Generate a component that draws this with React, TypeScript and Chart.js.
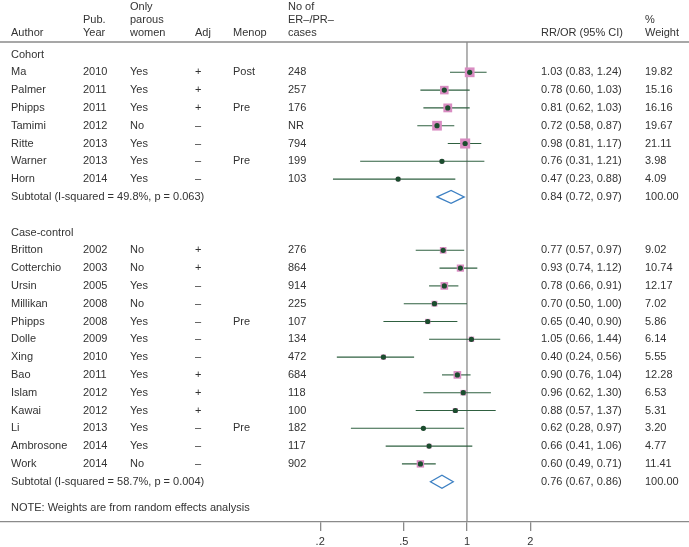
import React, { useEffect, useRef } from 'react';
import { Chart, registerables } from 'chart.js';

Chart.register(...registerables);

// ---- data ----
const authors = ['Ma', 'Palmer', 'Phipps', 'Tamimi', 'Ritte', 'Warner', 'Horn',
  'Britton', 'Cotterchio', 'Ursin', 'Millikan', 'Phipps', 'Dolle', 'Xing', 'Bao', 'Islam', 'Kawai', 'Li', 'Ambrosone', 'Work'];
const years = ['2010', '2011', '2011', '2012', '2013', '2013', '2014',
  '2002', '2003', '2005', '2008', '2008', '2009', '2010', '2011', '2012', '2012', '2013', '2014', '2014'];
const parous = ['Yes', 'Yes', 'Yes', 'No', 'Yes', 'Yes', 'Yes',
  'No', 'No', 'Yes', 'No', 'Yes', 'Yes', 'Yes', 'Yes', 'Yes', 'Yes', 'Yes', 'Yes', 'No'];
const adjusted = ['+', '+', '+', '\u2013', '\u2013', '\u2013', '\u2013',
  '+', '+', '\u2013', '\u2013', '\u2013', '\u2013', '\u2013', '+', '+', '+', '\u2013', '\u2013', '\u2013'];
const menopause = ['Post', '', 'Pre', '', '', 'Pre', '',
  '', '', '', '', 'Pre', '', '', '', '', '', 'Pre', '', ''];
const cases = ['248', '257', '176', 'NR', '794', '199', '103',
  '276', '864', '914', '225', '107', '134', '472', '684', '118', '100', '182', '117', '902'];
const estimates = [1.03, 0.78, 0.81, 0.72, 0.98, 0.76, 0.47,
  0.77, 0.93, 0.78, 0.70, 0.65, 1.05, 0.40, 0.90, 0.96, 0.88, 0.62, 0.66, 0.60];
const lowerCI = [0.83, 0.60, 0.62, 0.58, 0.81, 0.31, 0.23,
  0.57, 0.74, 0.66, 0.50, 0.40, 0.66, 0.24, 0.76, 0.62, 0.57, 0.28, 0.41, 0.49];
const upperCI = [1.24, 1.03, 1.03, 0.87, 1.17, 1.21, 0.88,
  0.97, 1.12, 0.91, 1.00, 0.90, 1.44, 0.56, 1.04, 1.30, 1.37, 0.97, 1.06, 0.71];
const weights = [19.82, 15.16, 16.16, 19.67, 21.11, 3.98, 4.09,
  9.02, 10.74, 12.17, 7.02, 5.86, 6.14, 5.55, 12.28, 6.53, 5.31, 3.20, 4.77, 11.41];
const studyRows = [1, 2, 3, 4, 5, 6, 7, 11, 12, 13, 14, 15, 16, 17, 18, 19, 20, 21, 22, 23];

const groupLabels = ['Cohort', 'Case-control'];
const groupRows = [0, 10];
const subtotalLabels = ['Subtotal (I-squared = 49.8%, p = 0.063)', 'Subtotal (I-squared = 58.7%, p = 0.004)'];
const subtotalEst = [0.84, 0.76];
const subtotalLo = [0.72, 0.67];
const subtotalHi = [0.97, 0.86];
const subtotalWeights = [100, 100];
const subtotalRows = [8, 24];
const noteText = 'NOTE: Weights are from random effects analysis';
const noteRow = 25.5;

const xTicks = [0.2, 0.5, 1, 2];
const xTickLabels = ['.2', '.5', '1', '2'];

// ---- styles ----
const FONT = '11px "Liberation Sans", Arial, Helvetica, sans-serif';
const TEXT = '#333333';
const RULE = '#8a8a8a';
const PINK = '#d98cc2';
const DOT = '#1b4d2e';
const CI = '#2f6040';
const DIAMOND = '#3d80c3';

const COL = { author: 11, year: 83, parous: 130, adj: 195, menop: 233, cases: 288, rr: 541, weight: 645 };

const fmt = (v: number) => v.toFixed(2);

const forestPlugin = {
  id: 'forest',
  beforeDatasetsDraw(chart: any) {
    const { ctx, scales, chartArea } = chart;
    const xs = scales.x;
    const ys = scales.y;
    ctx.save();
    ctx.strokeStyle = RULE;
    ctx.lineWidth = 1.3;
    ctx.beginPath();
    ctx.moveTo(0, 42);
    ctx.lineTo(chart.width, 42);
    ctx.stroke();
    const x1 = xs.getPixelForValue(1);
    ctx.beginPath();
    ctx.moveTo(x1, 42);
    ctx.lineTo(x1, chartArea.bottom);
    ctx.stroke();
    ctx.strokeStyle = CI;
    ctx.lineWidth = 1.1;
    studyRows.forEach((r, i) => {
      const y = ys.getPixelForValue(r);
      ctx.beginPath();
      ctx.moveTo(xs.getPixelForValue(lowerCI[i]), y);
      ctx.lineTo(xs.getPixelForValue(upperCI[i]), y);
      ctx.stroke();
    });
    ctx.restore();
  },
  afterDatasetsDraw(chart: any) {
    const { ctx, scales, chartArea } = chart;
    const xs = scales.x;
    const ys = scales.y;
    ctx.save();
    ctx.strokeStyle = DIAMOND;
    ctx.fillStyle = '#ffffff';
    ctx.lineWidth = 1.3;
    subtotalRows.forEach((r, i) => {
      const y = ys.getPixelForValue(r);
      const xl = xs.getPixelForValue(subtotalLo[i]);
      const xh = xs.getPixelForValue(subtotalHi[i]);
      const xc = xs.getPixelForValue(subtotalEst[i]);
      ctx.beginPath();
      ctx.moveTo(xl, y);
      ctx.lineTo(xc, y - 6.5);
      ctx.lineTo(xh, y);
      ctx.lineTo(xc, y + 6.5);
      ctx.closePath();
      ctx.fill();
      ctx.stroke();
    });

    ctx.font = FONT;
    ctx.fillStyle = TEXT;
    ctx.textBaseline = 'middle';

    // x-axis tick labels, positioned by the log scale
    ctx.textAlign = 'center';
    xTicks.forEach((v, i) => {
      ctx.fillText(xTickLabels[i], xs.getPixelForValue(v), chartArea.bottom + 20);
    });

    ctx.textAlign = 'left';
    const h1 = 7, h2 = 20, h3 = 33;
    ctx.fillText('Author', COL.author, h3);
    ctx.fillText('Pub.', COL.year, h2);
    ctx.fillText('Year', COL.year, h3);
    ctx.fillText('Only', COL.parous, h1);
    ctx.fillText('parous', COL.parous, h2);
    ctx.fillText('women', COL.parous, h3);
    ctx.fillText('Adj', COL.adj, h3);
    ctx.fillText('Menop', COL.menop, h3);
    ctx.fillText('No of', COL.cases, h1);
    ctx.fillText('ER\u2013/PR\u2013', COL.cases, h2);
    ctx.fillText('cases', COL.cases, h3);
    ctx.fillText('RR/OR (95% CI)', COL.rr, h3);
    ctx.fillText('%', COL.weight, h2);
    ctx.fillText('Weight', COL.weight, h3);

    groupRows.forEach((r, i) => {
      ctx.fillText(groupLabels[i], COL.author, ys.getPixelForValue(r));
    });
    studyRows.forEach((r, i) => {
      const y = ys.getPixelForValue(r);
      ctx.fillText(authors[i], COL.author, y);
      ctx.fillText(years[i], COL.year, y);
      ctx.fillText(parous[i], COL.parous, y);
      ctx.fillText(adjusted[i], COL.adj, y);
      ctx.fillText(menopause[i], COL.menop, y);
      ctx.fillText(cases[i], COL.cases, y);
      ctx.fillText(`${fmt(estimates[i])} (${fmt(lowerCI[i])}, ${fmt(upperCI[i])})`, COL.rr, y);
      ctx.fillText(fmt(weights[i]), COL.weight, y);
    });
    subtotalRows.forEach((r, i) => {
      const y = ys.getPixelForValue(r);
      ctx.fillText(subtotalLabels[i], COL.author, y);
      ctx.fillText(`${fmt(subtotalEst[i])} (${fmt(subtotalLo[i])}, ${fmt(subtotalHi[i])})`, COL.rr, y);
      ctx.fillText(fmt(subtotalWeights[i]), COL.weight, y);
    });
    ctx.fillText(noteText, COL.author, ys.getPixelForValue(noteRow));
    ctx.restore();
  },
};

export default function App() {
  const ref = useRef<HTMLCanvasElement | null>(null);

  useEffect(() => {
    document.body.style.margin = '0';
    if (!ref.current) return;
    const boxPts = studyRows.map((r, i) => ({ x: estimates[i], y: r }));
    const dotPts = studyRows.map((r, i) => ({ x: estimates[i], y: r }));
    const chart = new Chart(ref.current, {
      type: 'scatter',
      data: {
        datasets: [
          {
            label: 'weight boxes',
            data: boxPts,
            pointStyle: 'rect',
            pointRadius: weights.map((w) => 1.55 * Math.sqrt(w)),
            backgroundColor: PINK,
            borderWidth: 0,
            order: 2,
          },
          {
            label: 'estimates',
            data: dotPts,
            pointStyle: 'circle',
            pointRadius: 2.6,
            backgroundColor: DOT,
            borderColor: DOT,
            borderWidth: 0,
            order: 1,
          },
        ],
      },
      options: {
        responsive: false,
        animation: false,
        devicePixelRatio: 1,
        events: [],
        layout: { padding: { top: 0, left: 0, right: 0, bottom: 16 }, autoPadding: false },
        plugins: { legend: { display: false }, tooltip: { enabled: false } },
        scales: {
          x: {
            type: 'logarithmic',
            min: 0.005972,
            max: 11.41,
            afterBuildTicks: (axis: any) => {
              axis.ticks = xTicks.map((v) => ({ value: v }));
            },
            ticks: { display: false, autoSkip: false },
            grid: { display: true, drawOnChartArea: false, drawTicks: true, tickLength: 9, color: RULE, lineWidth: 1.3 },
            border: { display: true, color: RULE, width: 1.3 },
          },
          y: {
            type: 'linear',
            display: false,
            reverse: true,
            min: -3.062,
            max: 26.264,
          },
        },
      },
      plugins: [forestPlugin],
    });
    return () => chart.destroy();
  }, []);

  return (
    <div style={{ position: 'absolute', left: 0, top: 0 }}>
      <canvas ref={ref} width={689} height={547} />
    </div>
  );
}
